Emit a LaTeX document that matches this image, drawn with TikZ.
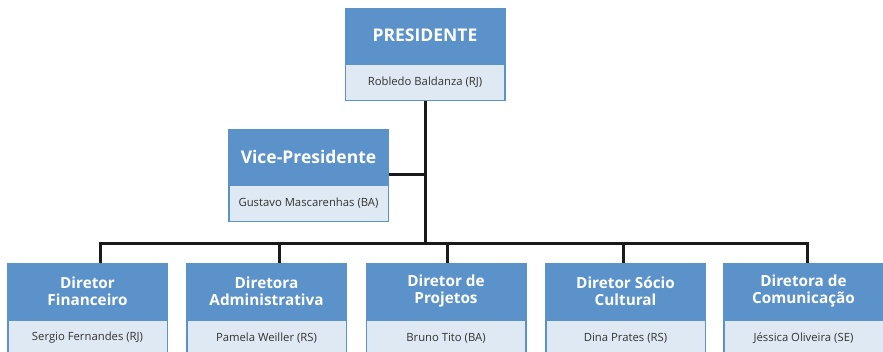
\documentclass[tikz,border=0pt]{standalone}
\usepackage{fontspec}
\setmainfont{Open Sans}
\usetikzlibrary{positioning}

\definecolor{cardblue}{HTML}{5B92C9}
\definecolor{cardlight}{HTML}{DEE9F4}
\definecolor{namegray}{HTML}{333333}
\definecolor{linkgray}{HTML}{1A1A1A}

\tikzset{
  rolebox/.style={fill=cardblue, text=white, inner sep=0pt,
    minimum width=161pt, minimum height=56pt, align=center,
    font=\bfseries\fontsize{15.3}{17}\selectfont},
  headbox/.style={rolebox, font=\bfseries\fontsize{17.5}{20}\selectfont},
  namebox/.style={fill=cardlight, draw=cardblue, line width=1.5pt,
    text=namegray, inner sep=0pt, minimum width=159.5pt, minimum height=36pt,
    font=\fontsize{11.3}{13}\selectfont},
  link/.style={draw=linkgray, line width=3pt, line join=miter}
}

\begin{document}
\begin{tikzpicture}[x=1pt,y=-1pt]
\clip (0,0) rectangle (883,351);
\fill[white] (0,0) rectangle (883,351);

% presidency
\node[headbox] (pres) at (425,35.5) {PRESIDENTE};
\node[namebox, below=0pt of pres] (presname) {Robledo Baldanza (RJ)};

\node[headbox] (vice) at (308.5,156.5) {Vice-Presidente};
\node[namebox, below=0pt of vice] (vicename) {Gustavo Mascarenhas (BA)};

% directors
\node[rolebox] (dfin) at (87.5,291) {Diretor\\Financeiro};
\node[rolebox] (dadm) at (266.5,291) {Diretora\\Administrativa};
\node[rolebox] (dproj) at (446,291) {Diretor de\\Projetos};
\node[rolebox] (dsoc) at (625.5,291) {Diretor Sócio\\Cultural};
\node[rolebox] (dcom) at (803.5,291) {Diretora de\\Comunicação};

\node[namebox, below=0pt of dfin] (dfinname) {Sergio Fernandes (RJ)};
\node[namebox, below=0pt of dadm] (dadmname) {Pamela Weiller (RS)};
\node[namebox, below=0pt of dproj] (dprojname) {Bruno Tito (BA)};
\node[namebox, below=0pt of dsoc] (dsocname) {Dina Prates (RS)};
\node[namebox, below=0pt of dcom] (dcomname) {Jéssica Oliveira (SE)};

% connectors
\coordinate (busL) at (100,243);
\coordinate (busR) at (807,243);
\draw[link] (presname.south) -- (presname.south |- busL);
\draw[link] ([yshift=10pt]vice.south east) -- ([yshift=10pt]vice.south east -| presname.south);
\draw[link] (dfin.north -| busL) -- (busL) -- (busR) -- (busR |- dcom.north);
\foreach \n/\x in {dadm/279, dproj/447, dsoc/623} {
  \coordinate (drop\n) at (\x,243);
  \draw[link] (drop\n) -- (drop\n |- \n.north);
}
\end{tikzpicture}
\end{document}
